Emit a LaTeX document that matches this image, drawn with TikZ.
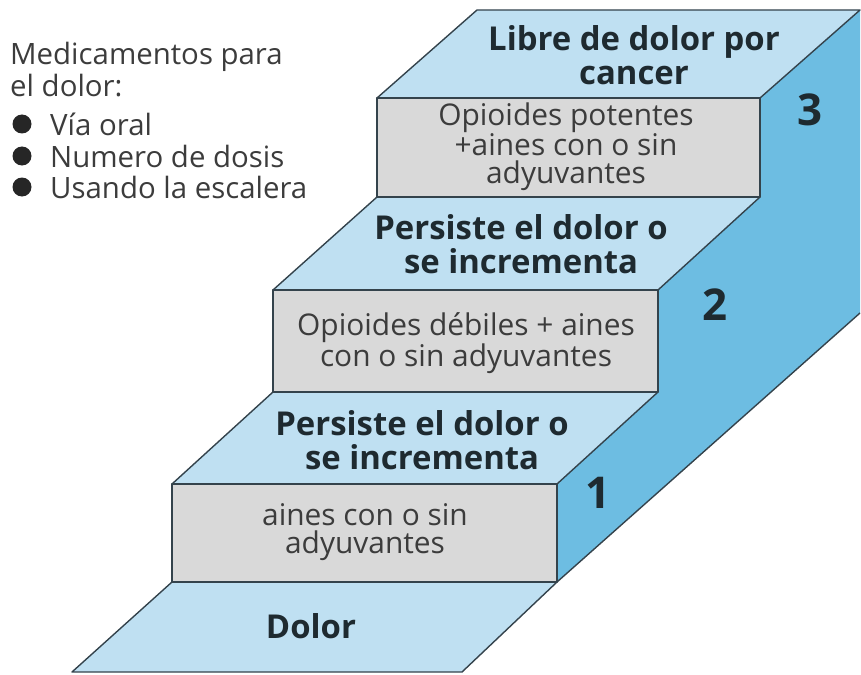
\documentclass[tikz,border=0pt]{standalone}
\usepackage{fontspec}
\setmainfont{Open Sans}
\definecolor{tread}{HTML}{BFE0F2}
\definecolor{side}{HTML}{6DBDE2}
\definecolor{riser}{HTML}{D9D9D9}
\definecolor{edge}{HTML}{34434C}
\definecolor{ink}{HTML}{1E2A30}
\definecolor{soft}{HTML}{3C3C3C}
\tikzset{
  face/.style={draw=edge, line width=1.4bp, line join=round},
  boldtxt/.style={font=\fontsize{33}{34}\selectfont\bfseries, text=ink, align=center, inner sep=0pt},
  regtxt/.style={font=\fontsize{30}{28}\selectfont, text=soft, align=center, inner sep=0pt},
  numtxt/.style={font=\fontsize{44}{44}\selectfont\bfseries, text=ink, inner sep=0pt},
  legtxt/.style={font=\fontsize{29.5}{32}\selectfont, text=soft, align=left, inner sep=0pt, anchor=north west},
}
\begin{document}
\begin{tikzpicture}[x=1bp, y=-1bp]
\useasboundingbox (0,0) rectangle (861,675);
% side face
\fill[side] (557,582) -- (860,313) -- (860,10) -- (760,98) -- (760,197) -- (658,290) -- (658,392) -- (557,484) -- cycle;
\draw[face] (557,582) -- (860,313);
% treads
\filldraw[face, fill=tread] (377,98) -- (760,98) -- (860,10) -- (477,10) -- cycle;
\filldraw[face, fill=tread] (273,290) -- (658,290) -- (760,197) -- (377,197) -- cycle;
\filldraw[face, fill=tread] (172,484) -- (557,484) -- (658,392) -- (273,392) -- cycle;
\filldraw[face, fill=tread] (72,672) -- (462,672) -- (557,582) -- (172,582) -- cycle;
% risers
\filldraw[face, fill=riser] (377,98) rectangle (760,197);
\filldraw[face, fill=riser] (273,290) rectangle (658,392);
\filldraw[face, fill=riser] (172,484) rectangle (557,582);
% texts
\node[boldtxt] (top) at (634,55) {Libre de dolor por\\cancer};
\node[regtxt] (r3) at (566,147) {Opioides potentes\\+aines con o sin\\adyuvantes};
\node[boldtxt] (t2) at (521,244) {Persiste el dolor o\\se incrementa};
\node[regtxt] (r2) at (466,343) {Opioides débiles + aines\\con o sin adyuvantes};
\node[boldtxt] (t1) at (422,440) {Persiste el dolor o\\se incrementa};
\node[regtxt] (r1) at (365,532) {aines con o sin\\adyuvantes};
\node[boldtxt] (t0) at (311,626) {Dolor};
\node[numtxt] (n3) at (810,110) {3};
\node[numtxt] (n2) at (715,305) {2};
\node[numtxt] (n1) at (598,493) {1};
% legend
\node[legtxt] (leg) at (10,42) {Medicamentos para\\el dolor:};
\foreach \y/\t/\n in {124/Vía oral/a, 156/Numero de dosis/b, 187/Usando la escalera/c} {
  \fill[black!85] (22,\y) circle (9.5bp);
  \node[legtxt, anchor=west] (b\n) at (50,\y) {\t};
}
\end{tikzpicture}
\end{document}
